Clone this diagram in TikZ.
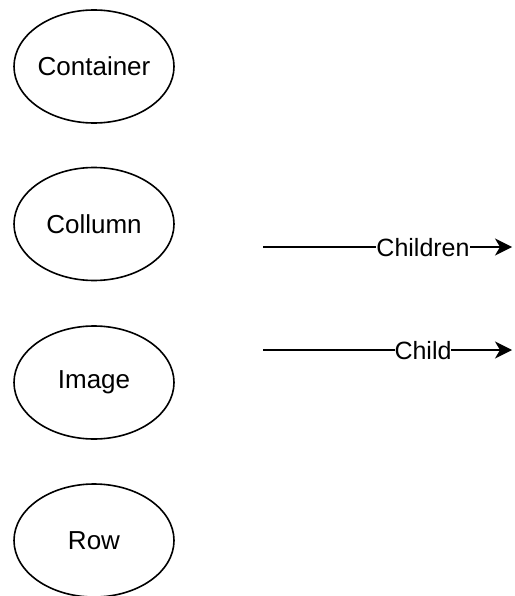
\documentclass[tikz,border=0pt]{standalone}
\usepackage{fontspec}
\setmainfont{Liberation Sans}
\usetikzlibrary{shapes.geometric,arrows.meta}
\begin{document}
\begin{tikzpicture}[x=1pt,y=-1pt,
  comp/.style={draw, line width=1.6pt, ellipse, minimum width=160pt, minimum height=113pt, inner sep=0pt, font=\fontsize{26}{30}\selectfont},
  link/.style={line width=1.6pt, -{Stealth[length=17pt,width=17pt,inset=5pt]}},
  lbl/.style={fill=white, inner sep=0pt, font=\fontsize{25}{30}\selectfont}]
\useasboundingbox (0,0) rectangle (514,596);
\node[comp] (container) at (94,66.5) {Container};
\node[comp] (collumn) at (94,224) {Collumn};
\node[comp] (image) at (94,382.5) {Image};
\node[comp] (row) at (94,540.5) {Row};
\coordinate (a1) at (263,247);
\coordinate (b1) at (512,247);
\coordinate (a2) at (263,350);
\coordinate (b2) at (512,350);
\draw[link] (a1) -- (b1);
\draw[link] (a2) -- (b2);
\node[lbl] (l1) at (423,248) {Children};
\node[lbl] (l2) at (423,351) {Child};
\end{tikzpicture}
\end{document}
